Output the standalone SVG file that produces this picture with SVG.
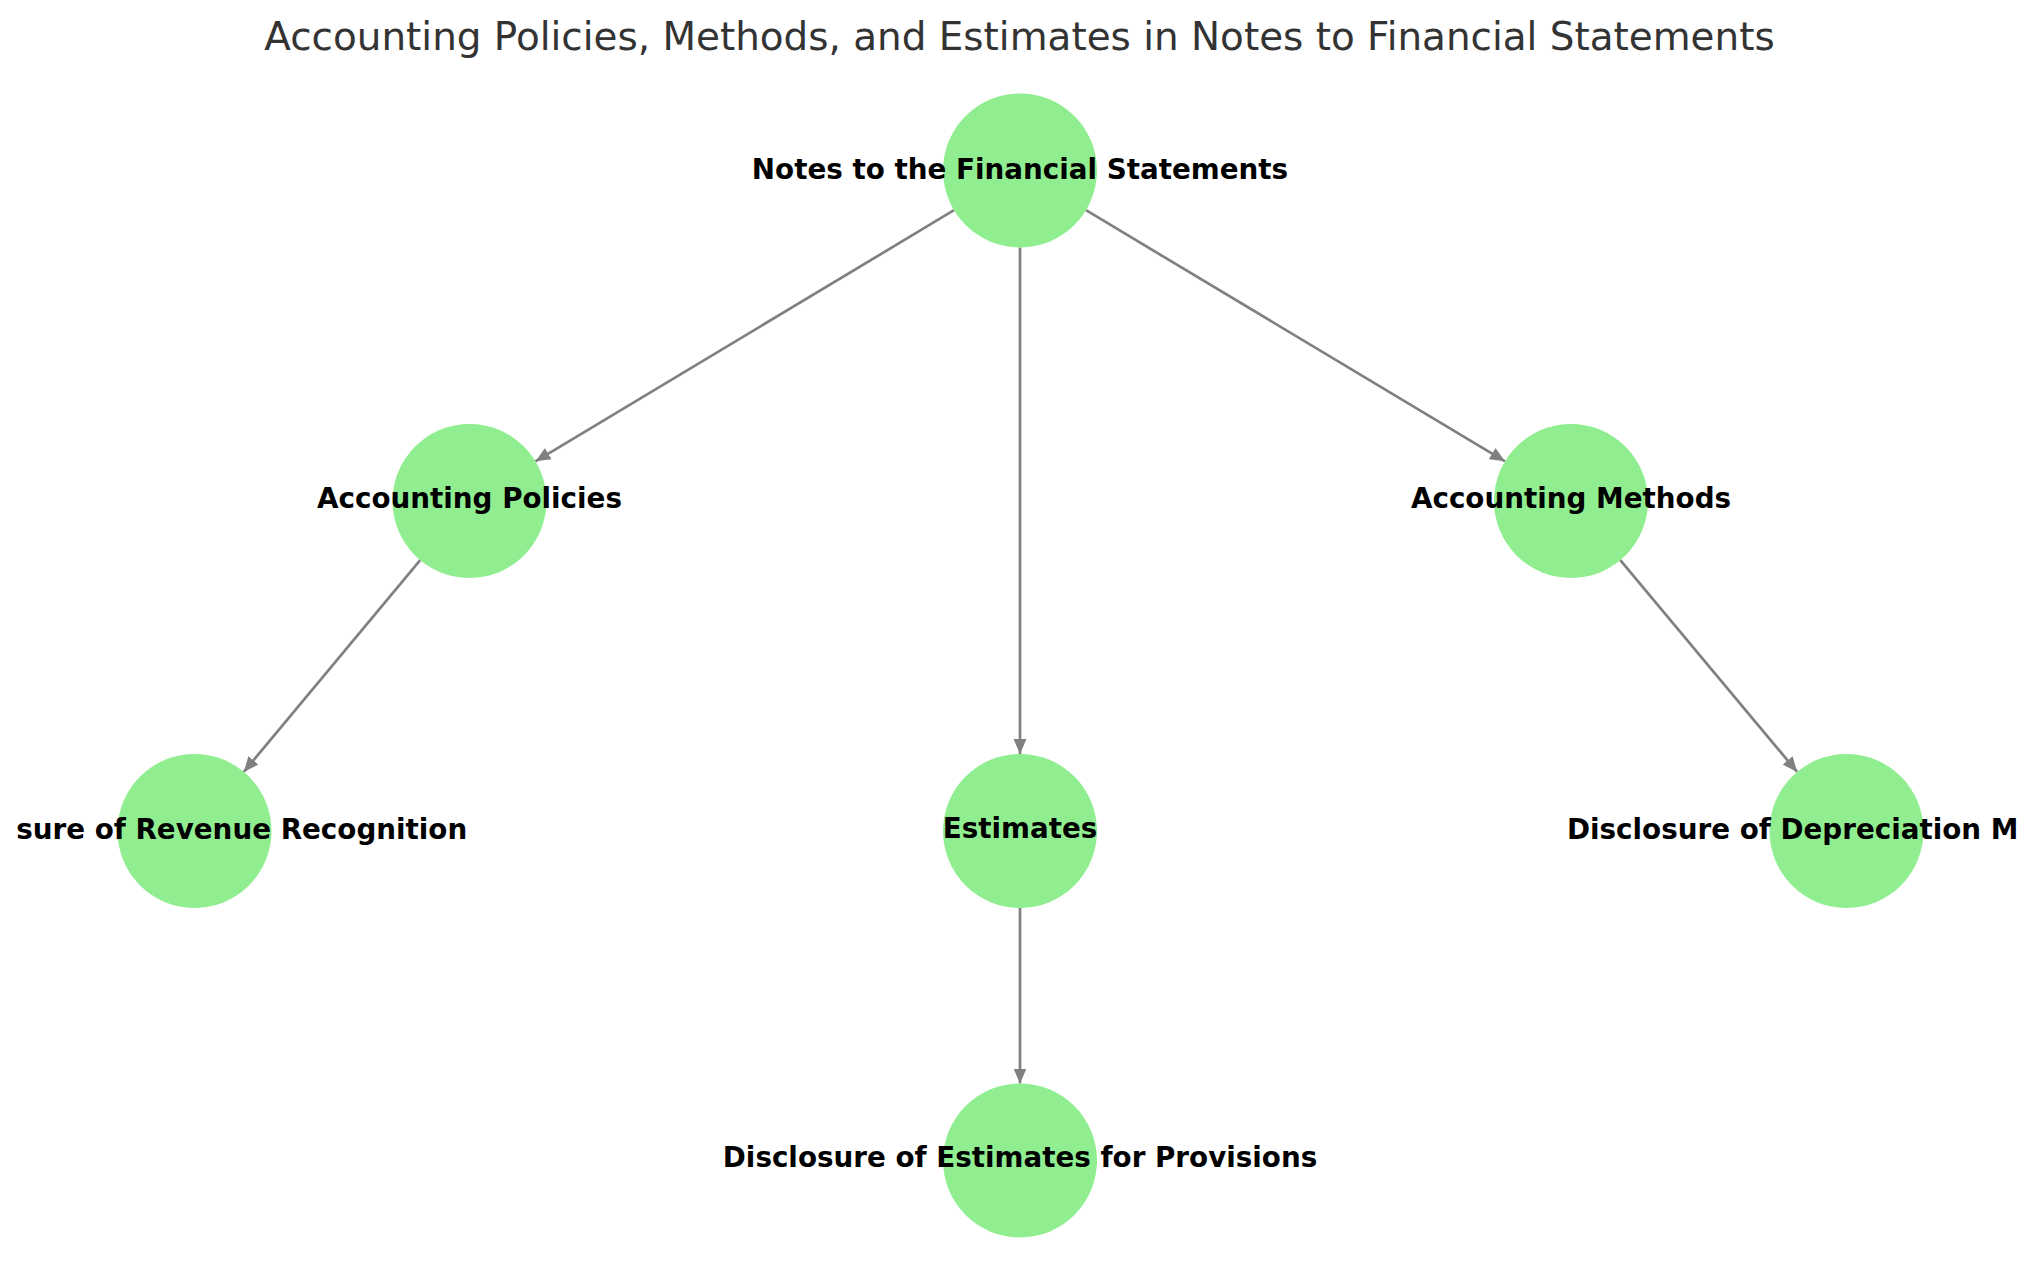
<svg xmlns="http://www.w3.org/2000/svg" width="2039" height="1286" viewBox="0 0 2039 1286">
<style>
.node{fill:#90EE90;}
.lbl{font-family:"DejaVu Sans",sans-serif;font-weight:bold;font-size:27.78px;fill:#000;text-anchor:middle;}
.edge{stroke:#808080;stroke-width:2.7;fill:none;marker-end:url(#ah);}
.title{font-family:"DejaVu Sans",sans-serif;font-size:38.9px;fill:#333333;text-anchor:middle;}
</style>
<defs>
<marker id="ah" markerWidth="16" markerHeight="14" refX="15" refY="7" orient="auto" markerUnits="userSpaceOnUse">
<path d="M0,0.5 L15,7 L0,13.5 z" fill="#808080"/>
</marker>
</defs>
<rect width="2039" height="1286" fill="#ffffff"/>
<text class="title" x="1019.5" y="50">Accounting Policies, Methods, and Estimates in Notes to Financial Statements</text>
<g id="edges">
<line class="edge" x1="954" y1="210.2" x2="535.5" y2="461.3"/>
<line class="edge" x1="1086" y1="210.2" x2="1505" y2="461.3"/>
<line class="edge" x1="1020" y1="247.5" x2="1020" y2="754"/>
<line class="edge" x1="420.2" y1="560.1" x2="243.8" y2="771.9"/>
<line class="edge" x1="1620.3" y1="560.1" x2="1797.2" y2="771.9"/>
<line class="edge" x1="1020" y1="908" x2="1020" y2="1083.5"/>
</g>
<g id="n-root">
<circle class="node" cx="1020" cy="170.5" r="77"/>
<text class="lbl" x="1020" y="179">Notes to the Financial Statements</text>
</g>
<g id="n-policies">
<circle class="node" cx="469.5" cy="501" r="77"/>
<text class="lbl" x="469.5" y="508">Accounting Policies</text>
</g>
<g id="n-methods">
<circle class="node" cx="1571" cy="501" r="77"/>
<text class="lbl" x="1571" y="508">Accounting Methods</text>
</g>
<g id="n-estimates">
<circle class="node" cx="1020" cy="831" r="77"/>
<text class="lbl" x="1020" y="838">Estimates</text>
</g>
<g id="n-revenue">
<circle class="node" cx="194.5" cy="831" r="77"/>
<text class="lbl" x="467.2" y="839" style="text-anchor:end">sure of Revenue Recognition</text>
</g>
<g id="n-depreciation">
<circle class="node" cx="1846.5" cy="831" r="77"/>
<text class="lbl" x="1567" y="839" style="text-anchor:start">Disclosure of Depreciation M</text>
</g>
<g id="n-provisions">
<circle class="node" cx="1020" cy="1160.5" r="77"/>
<text class="lbl" x="1020" y="1167">Disclosure of Estimates for Provisions</text>
</g>
</svg>
